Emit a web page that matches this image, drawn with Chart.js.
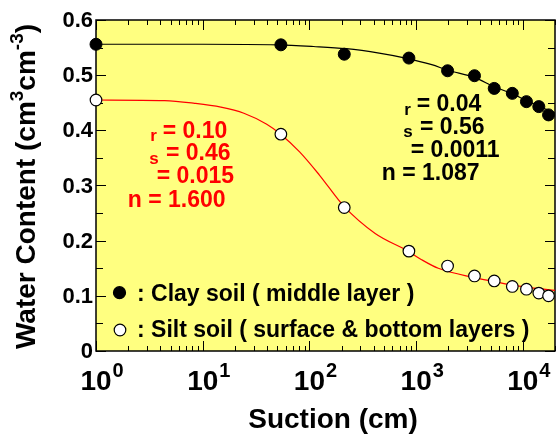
<!DOCTYPE html>
<html>
<head>
<meta charset="utf-8">
<script src="https://cdn.jsdelivr.net/npm/chart.js@4.4.0/dist/chart.umd.min.js"></script>
<style>
  html, body { margin: 0; padding: 0; background: #fff; overflow: hidden; }
  #wrap { width: 562px; height: 436px; }
</style>
</head>
<body>
<div id="wrap"><canvas id="retention" width="562" height="436"></canvas></div>
<script>
// Measured points (suction in cm, water content in cm3/cm3)
const claySuction = [1, 54, 212, 855, 1970, 3520, 5390, 7960, 10800, 14100, 17400];
const clayTheta = [0.556, 0.555, 0.538, 0.531, 0.508, 0.499, 0.476, 0.467, 0.452, 0.443, 0.428];
const siltSuction = [1, 54, 212, 855, 1970, 3520, 5390, 7960, 10800, 14100, 17400];
const siltTheta = [0.455, 0.393, 0.260, 0.181, 0.154, 0.136, 0.127, 0.117, 0.112, 0.105, 0.100];

// Fitted curves
const clayFitSuction = [1, 10, 50, 109, 221, 450, 795, 1400, 1970, 3500, 5400, 8000, 10800, 14000, 20000];
const clayFitTheta = [0.556, 0.556, 0.555, 0.552, 0.548, 0.540, 0.531, 0.519, 0.509, 0.496, 0.479, 0.466, 0.454, 0.444, 0.431];
const siltFitSuction = [1, 4.4, 8.4, 14.8, 24.3, 39.8, 53.7, 80.9, 124, 211, 413, 839, 1114, 1611, 3516, 5340, 8225, 12590, 20000];
const siltFitTheta = [0.455, 0.454, 0.449, 0.442, 0.431, 0.411, 0.393, 0.361, 0.319, 0.262, 0.213, 0.181, 0.166, 0.150, 0.133, 0.126, 0.119, 0.114, 0.110];

// Axis ticks
const xMajorTicks = [1, 10, 100, 1000, 10000];
const xTickExponents = ['0', '1', '2', '3', '4'];
const yTicks = [0, 0.1, 0.2, 0.3, 0.4, 0.5, 0.6];
const yTickLabels = ['0', '0.1', '0.2', '0.3', '0.4', '0.5', '0.6'];

// Fit parameters shown on the plot
const clayParams = ['0.04', '0.56', '0.0011', '1.087'];
const siltParams = ['0.10', '0.46', '0.015', '1.600'];
const legendLabels = [': Clay soil ( middle layer )', ': Silt soil ( surface & bottom layers )'];

const FONT = '"Liberation Sans", Arial, sans-serif';
const YELLOW = '#ffff80';

function toXY(xs, ys) {
    return xs.map((x, i) => ({ x: x, y: ys[i] }));
}

function text(ctx, s, x, y, size, color, align, baseline) {
    ctx.font = 'bold ' + size + 'px ' + FONT;
    ctx.fillStyle = color;
    ctx.textAlign = align || 'left';
    ctx.textBaseline = baseline || 'alphabetic';
    ctx.fillText(s, x, y);
}

// Parameter block, positioned from the "n = ..." line
function paramBlock(ctx, vals, x, y, color) {
    text(ctx, 'r', x + 22.5, y - 65.5, 17, color);
    text(ctx, '= ' + vals[0], x + 35, y - 69, 23, color);
    text(ctx, 's', x + 21.5, y - 43, 17, color);
    text(ctx, '= ' + vals[1], x + 38.3, y - 46.5, 23, color);
    text(ctx, '= ' + vals[2], x + 29, y - 23.3, 23, color);
    text(ctx, 'n = ' + vals[3], x, y, 23, color);
}

const decorations = {
    id: 'decorations',
    beforeDraw(chart) {
        const { ctx, chartArea: a } = chart;
        ctx.save();
        ctx.fillStyle = '#fff';
        ctx.fillRect(0, 0, chart.width, chart.height);
        ctx.fillStyle = YELLOW;
        ctx.fillRect(a.left, a.top, a.right - a.left, a.bottom - a.top);
        ctx.restore();
    },
    beforeDatasetsDraw(chart) {
        const { ctx, chartArea: a } = chart;
        const xs = chart.scales.x, ys = chart.scales.y;
        ctx.save();
        ctx.strokeStyle = '#000';
        ctx.lineWidth = 1.5;
        ctx.strokeRect(a.left, a.top, a.right - a.left, a.bottom - a.top);

        // x ticks, inward on bottom and top
        ctx.lineWidth = 1;
        ctx.beginPath();
        xMajorTicks.forEach((d) => {
            for (let k = 1; k < 10; k++) {
                const v = d * k;
                if (v > xs.max) break;
                const px = Math.round(xs.getPixelForValue(v)) + 0.5;
                const len = k === 1 ? 10 : 5;
                ctx.moveTo(px, a.bottom);
                ctx.lineTo(px, a.bottom - len);
                ctx.moveTo(px, a.top);
                ctx.lineTo(px, a.top + len);
            }
        });
        // y ticks every 0.05, inward on left and right
        for (let i = 0; i < yTicks.length * 2 - 1; i++) {
            const v = i * 0.05;
            const py = Math.round(ys.getPixelForValue(v)) + 0.5;
            const len = i % 2 === 0 ? 10 : 7;
            ctx.moveTo(a.left, py);
            ctx.lineTo(a.left + len, py);
            ctx.moveTo(a.right, py);
            ctx.lineTo(a.right - len, py);
        }
        ctx.stroke();
        ctx.restore();
    },
    afterDatasetsDraw(chart) {
        const { ctx, chartArea: a } = chart;
        const xs = chart.scales.x, ys = chart.scales.y;
        ctx.save();

        // tick labels
        yTicks.forEach((v, i) => {
            text(ctx, yTickLabels[i], 93, ys.getPixelForValue(v) + 1, 22, '#000', 'right', 'middle');
        });
        xMajorTicks.forEach((v, i) => {
            const px = xs.getPixelForValue(v);
            text(ctx, '10', px, 390, 28, '#000', 'center');
            text(ctx, xTickExponents[i], px + 16.5, 377, 20, '#000', 'left');
        });

        // axis titles
        text(ctx, 'Suction (cm)', 333, 428, 28, '#000', 'center');
        const parts = [['Water Content (cm', 28, 0], ['3', 19, -12], ['cm', 28, 0], ['-3', 19, -12], [')', 28, 0]];
        let total = 0;
        parts.forEach((p) => {
            ctx.font = 'bold ' + p[1] + 'px ' + FONT;
            total += ctx.measureText(p[0]).width;
        });
        ctx.translate(35, 186.5);
        ctx.rotate(-Math.PI / 2);
        let cx = -total / 2;
        parts.forEach((p) => {
            text(ctx, p[0], cx, p[2], p[1], '#000');
            cx += ctx.measureText(p[0]).width;
        });
        ctx.setTransform(1, 0, 0, 1, 0, 0);

        // fit parameters
        paramBlock(ctx, clayParams, 381.7, 180, '#000');
        paramBlock(ctx, siltParams, 127.7, 206.7, '#ff0000');

        // legend
        ctx.lineWidth = 1.2;
        ctx.strokeStyle = '#000';
        ctx.beginPath();
        ctx.arc(119.5, 292.7, 6, 0, Math.PI * 2);
        ctx.fillStyle = '#000';
        ctx.fill();
        ctx.stroke();
        ctx.beginPath();
        ctx.arc(120, 330, 5.8, 0, Math.PI * 2);
        ctx.fillStyle = '#fff';
        ctx.fill();
        ctx.stroke();
        text(ctx, legendLabels[0], 137, 300.5, 23, '#000');
        text(ctx, legendLabels[1], 137, 336.5, 23, '#000');

        ctx.restore();
    }
};

document.addEventListener('DOMContentLoaded', function() {
    const ctx = document.getElementById('retention').getContext('2d');

    new Chart(ctx, {
        type: 'scatter',
        data: {
            datasets: [
                {
                    label: 'Clay soil',
                    data: toXY(claySuction, clayTheta),
                    pointRadius: 6,
                    pointBackgroundColor: '#000',
                    pointBorderColor: '#000',
                    pointBorderWidth: 1,
                    clip: false,
                    order: 0,
                },
                {
                    label: 'Silt soil',
                    data: toXY(siltSuction, siltTheta),
                    pointRadius: 5.8,
                    pointBackgroundColor: '#fff',
                    pointBorderColor: '#000',
                    pointBorderWidth: 1.2,
                    clip: false,
                    order: 0,
                },
                {
                    label: 'Clay fit',
                    data: toXY(clayFitSuction, clayFitTheta),
                    showLine: true,
                    pointRadius: 0,
                    borderColor: '#000',
                    borderWidth: 1.2,
                    cubicInterpolationMode: 'monotone',
                    order: 1,
                },
                {
                    label: 'Silt fit',
                    data: toXY(siltFitSuction, siltFitTheta),
                    showLine: true,
                    pointRadius: 0,
                    borderColor: '#ff0000',
                    borderWidth: 1.2,
                    cubicInterpolationMode: 'monotone',
                    order: 1,
                },
            ],
        },
        options: {
            responsive: false,
            animation: false,
            events: [],
            layout: {
                padding: { left: 96, top: 20, right: 0, bottom: 85 },
            },
            plugins: {
                legend: { display: false },
                tooltip: { enabled: false },
            },
            scales: {
                x: { type: 'logarithmic', min: 1, max: 20000, display: false },
                y: { type: 'linear', min: 0, max: 0.6, display: false },
            },
        },
        plugins: [decorations],
    });
});
</script>
</body>
</html>
